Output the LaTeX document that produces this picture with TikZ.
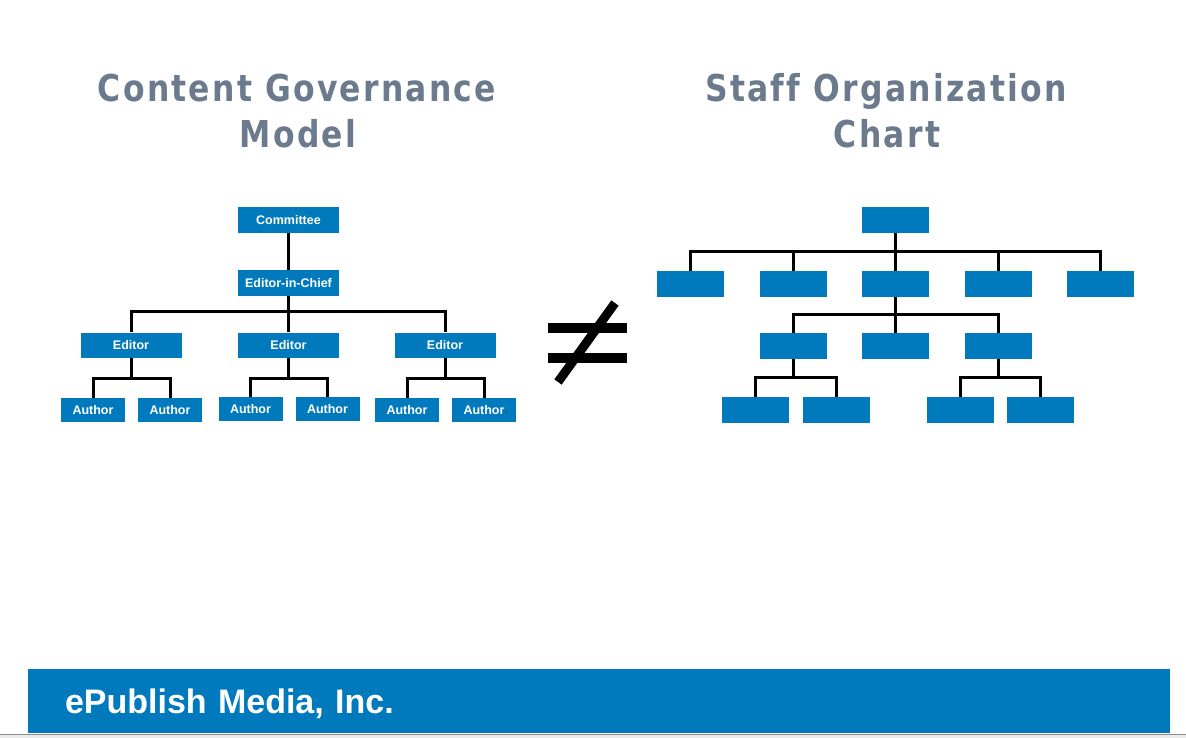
\documentclass[tikz,border=0pt]{standalone}
\usepackage{fontspec}
\setmainfont{Liberation Sans}
\newfontfamily\titlefont{DejaVu Sans}[FakeStretch=0.85,LetterSpace=6,Ligatures=NoCommon]
\usetikzlibrary{positioning}
\definecolor{boxblue}{RGB}{0,122,189}
\definecolor{titlegray}{RGB}{108,122,142}
\tikzstyle{role} = [rectangle, 
minimum width=101pt, 
minimum height=26pt, 
inner sep=0pt, 
text centered, 
fill=boxblue, 
text=white, 
font=\bfseries\fontsize{12.5}{14}\selectfont]
\tikzstyle{editor} = [role, minimum height=25pt]
\tikzstyle{author} = [role, minimum width=64pt, minimum height=24pt]
\tikzstyle{post} = [rectangle, 
minimum width=67pt, 
minimum height=26pt, 
fill=boxblue]
\tikzstyle{title} = [anchor=base, 
inner sep=0pt, 
text=titlegray, 
font=\titlefont\bfseries\fontsize{37}{46}\selectfont]
\tikzstyle{banner} = [rectangle, 
fill=boxblue, 
minimum height=64pt, 
inner xsep=37pt, 
text width=1068pt, 
text depth=0pt, 
text=white, 
font=\bfseries\fontsize{34}{40}\selectfont]
\tikzstyle{link} = [line width=3pt, black]

\begin{document}
\begin{tikzpicture}[x=1pt, y=-1pt, node distance=63pt]
\useasboundingbox[fill=white] (0,0) rectangle (1186,738);

% titles
\node (govtitle) [title] at (297,102) {Content Governance};
\node (govmodel) [title] at (298,148) {Model};
\node (stafftitle) [title] at (886,102) {Staff Organization};
\node (staffchart) [title] at (887,148) {Chart};

% governance model
\node (committee) [role] at (288.5,220) {Committee};
\node (chief) [role, below of=committee] {Editor-in-Chief};
\node (editor2) [editor, below of=chief, yshift=1pt] {Editor};
\node (editor1) [editor, left of=editor2, xshift=-94.5pt] {Editor};
\node (editor3) [editor, right of=editor2, xshift=93.5pt] {Editor};
\node (author11) [author, below of=editor1, xshift=-38pt, yshift=-2pt] {Author};
\node (author12) [author, below of=editor1, xshift=39pt, yshift=-2pt] {Author};
\node (author21) [author, below of=editor2, xshift=-38pt, yshift=-1pt] {Author};
\node (author22) [author, below of=editor2, xshift=39pt, yshift=-1pt] {Author};
\node (author31) [author, below of=editor3, xshift=-38pt, yshift=-2pt] {Author};
\node (author32) [author, below of=editor3, xshift=39pt, yshift=-2pt] {Author};

\draw [link] (committee) -- (chief);
\draw [link] (chief.south) -- ++(0,15.5) -| (editor1.north);
\draw [link] (chief.south) -- (editor2.north);
\draw [link] (chief.south) -- ++(0,15.5) -| (editor3.north);
\draw [link] (editor1.south) -- ++(0,20.5) -| (author11.north);
\draw [link] (editor1.south) -- ++(0,20.5) -| (author12.north);
\draw [link] (editor2.south) -- ++(0,20.5) -| (author21.north);
\draw [link] (editor2.south) -- ++(0,20.5) -| (author22.north);
\draw [link] (editor3.south) -- ++(0,20.5) -| (author31.north);
\draw [link] (editor3.south) -- ++(0,20.5) -| (author32.north);

% not equal sign
\draw [line width=10pt] (548,328) -- (627,328);
\draw [line width=10pt] (548,358) -- (627,358);
\draw [line width=9pt] (558,382) -- (615,303);

% staff organization chart
\node (head) [post] at (895.5,220) {};
\node (unit3) [post, below of=head, yshift=-1pt] {};
\node (unit2) [post, left of=unit3, xshift=-39.5pt] {};
\node (unit1) [post, left of=unit2, xshift=-39.5pt] {};
\node (unit4) [post, right of=unit3, xshift=39.5pt] {};
\node (unit5) [post, right of=unit4, xshift=39.5pt] {};
\node (team1) [post, below of=unit2, yshift=1pt] {};
\node (team2) [post, below of=unit3, yshift=1pt] {};
\node (team3) [post, below of=unit4, yshift=1pt] {};
\node (member11) [post, below of=team1, xshift=-38pt, yshift=-1pt] {};
\node (member12) [post, below of=team1, xshift=43pt, yshift=-1pt] {};
\node (member31) [post, below of=team3, xshift=-38pt, yshift=-1pt] {};
\node (member32) [post, below of=team3, xshift=42pt, yshift=-1pt] {};

\draw [link] (head.south) -- ++(0,18) -| (unit1.north);
\draw [link] (head.south) -- ++(0,18) -| (unit2.north);
\draw [link] (head.south) -- (unit3.north);
\draw [link] (head.south) -- ++(0,18) -| (unit4.north);
\draw [link] (head.south) -- ++(0,18) -| (unit5.north);
\draw [link] (unit3.south) -- ++(0,17) -| (team1.north);
\draw [link] (unit3.south) -- (team2.north);
\draw [link] (unit3.south) -- ++(0,17) -| (team3.north);
\draw [link] (team1.south) -- ++(0,18) -| (member11.north);
\draw [link] (team1.south) -- ++(0,18) -| (member12.north);
\draw [link] (team3.south) -- ++(0,18) -| (member31.north);
\draw [link] (team3.south) -- ++(0,18) -| (member32.north);

% footer
\node (footer) [banner] at (599,701) {ePublish Media, Inc.};
\fill [black!8] (0,735) rectangle (1186,738);
\draw [black!45, line width=1pt] (0,734.5) -- (1186,734.5);

\end{tikzpicture}
\end{document}
